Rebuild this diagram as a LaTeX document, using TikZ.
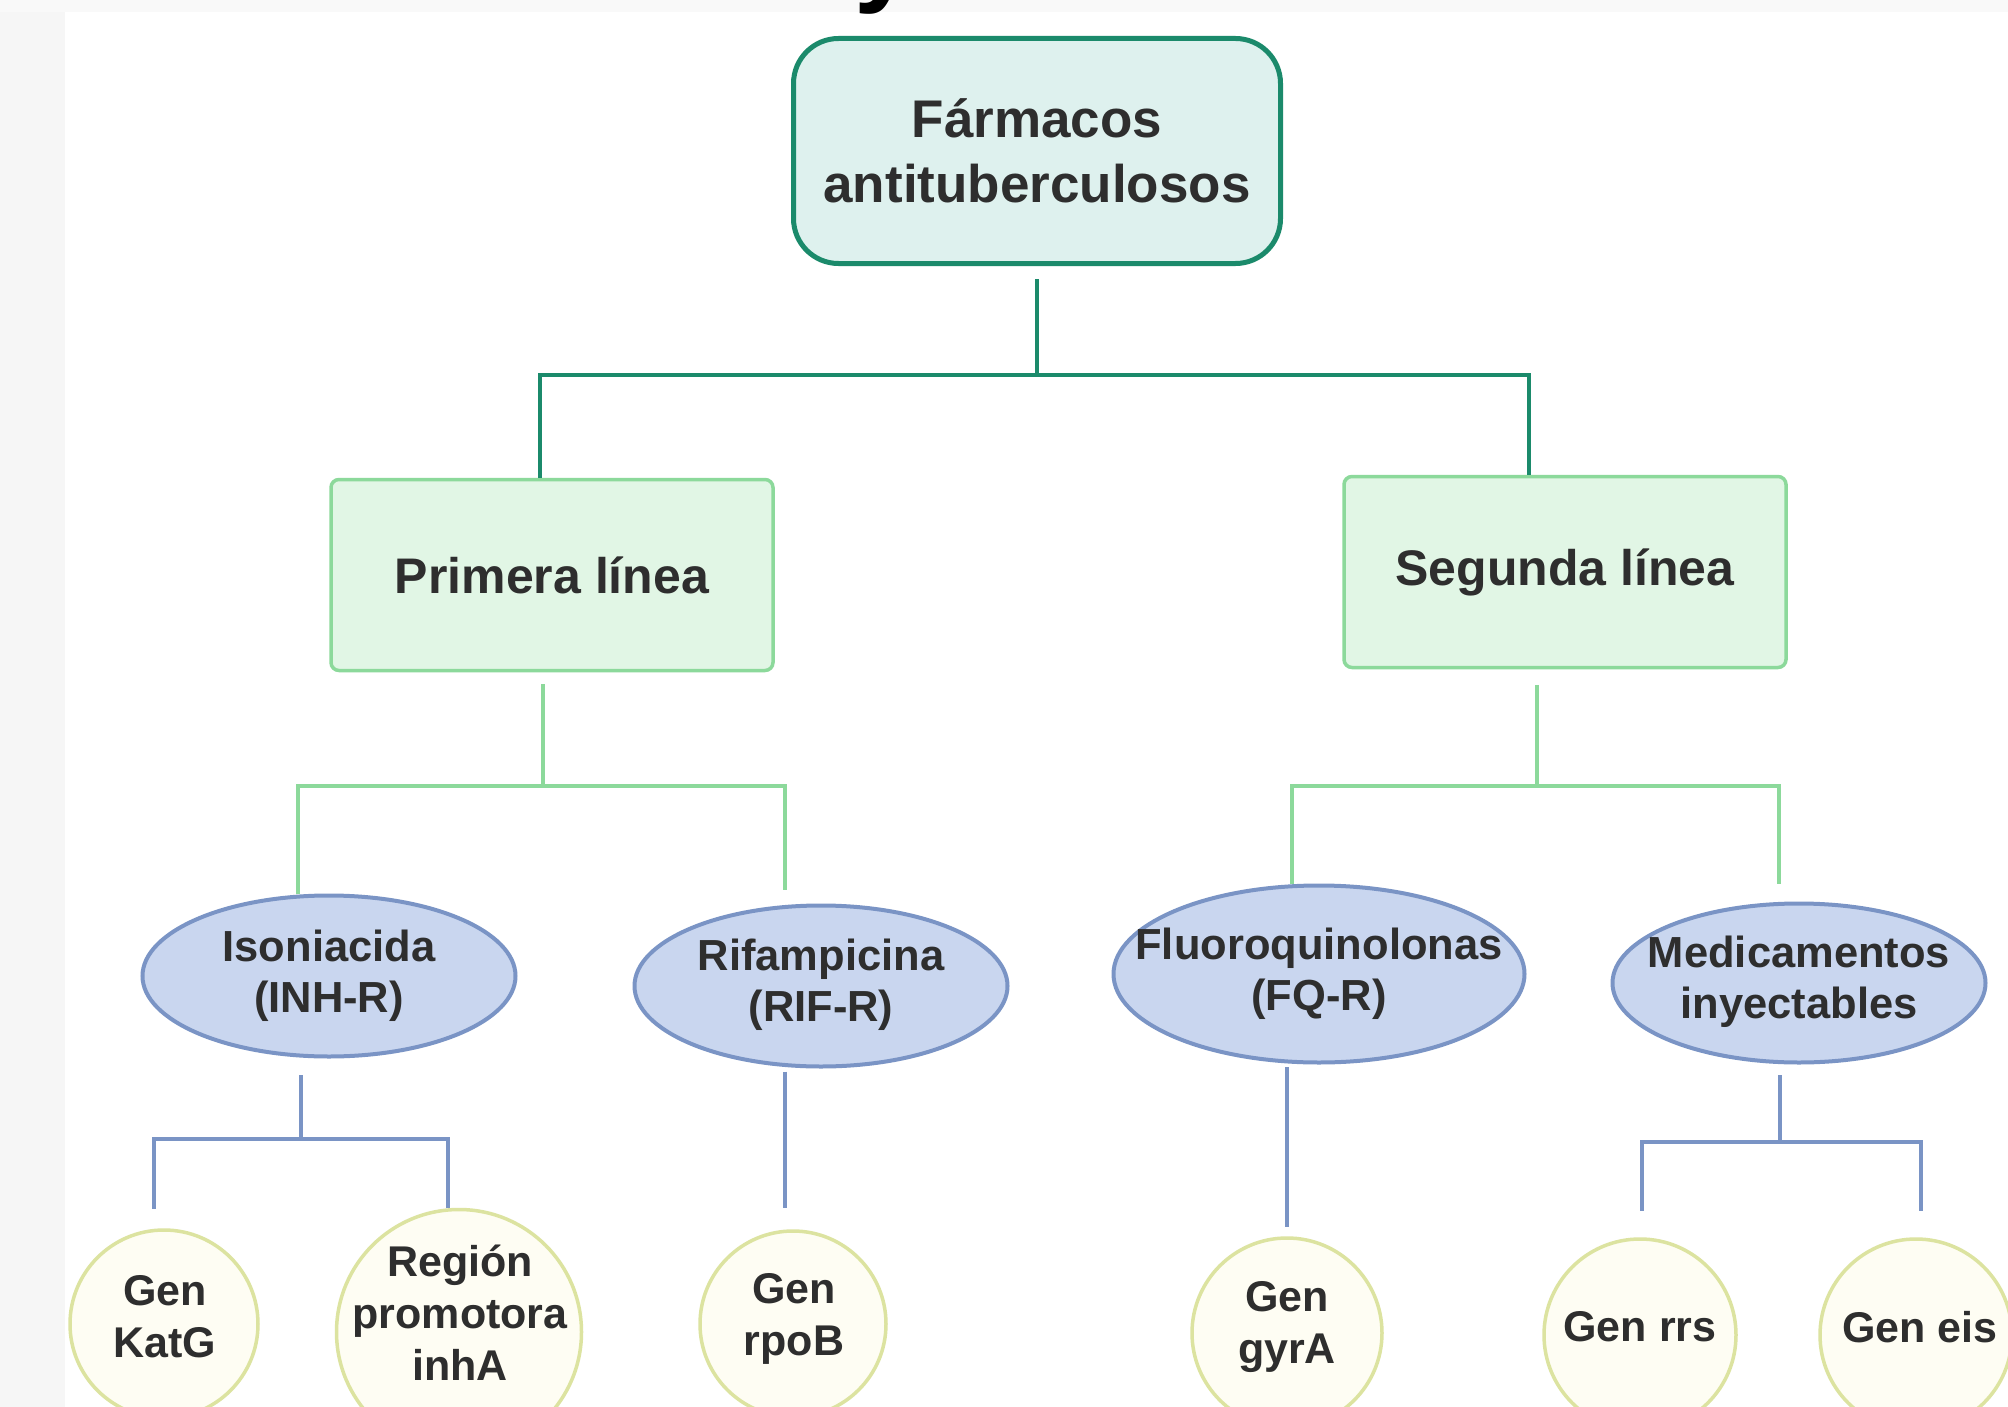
\documentclass[tikz,border=0pt]{standalone}
\usepackage{fontspec}
\setmainfont{Liberation Sans}
\usetikzlibrary{shapes.geometric}
\definecolor{txt}{HTML}{2E2E2E}
\definecolor{tealc}{HTML}{1B8A6B}
\definecolor{rootfill}{HTML}{DEF1EE}
\definecolor{greenc}{HTML}{8CD99B}
\definecolor{boxfill}{HTML}{E1F6E5}
\definecolor{bluec}{HTML}{7A94C5}
\definecolor{ellfill}{HTML}{C9D6EF}
\definecolor{yelc}{HTML}{DCE3A0}
\definecolor{circfill}{HTML}{FEFDF3}
\tikzset{
  rootbox/.style={draw=tealc, fill=rootfill, line width=5pt, rounded corners=45pt,
    minimum width=487pt, minimum height=225pt, inner sep=0pt, align=center, text=txt,
    font=\fontsize{53}{65}\selectfont\bfseries},
  linebox/.style={draw=greenc, fill=boxfill, line width=3.5pt, rounded corners=8pt,
    minimum width=442pt, minimum height=191pt, inner sep=0pt, align=center, text=txt,
    font=\fontsize{50}{60}\selectfont\bfseries},
  ell/.style={ellipse, draw=bluec, fill=ellfill, line width=4pt, inner sep=0pt},
  etext/.style={inner sep=0pt, align=center, text=txt, font=\fontsize{43.5}{51}\selectfont\bfseries},
  circ/.style={circle, draw=yelc, fill=circfill, line width=3.5pt, inner sep=0pt},
  ctext/.style={inner sep=0pt, align=center, text=txt, font=\fontsize{43}{52}\selectfont\bfseries},
  tealln/.style={draw=tealc, line width=4.5pt},
  greenln/.style={draw=greenc, line width=4.5pt},
  blueln/.style={draw=bluec, line width=4.5pt},
}
\begin{document}
\begin{tikzpicture}[x=1pt,y=-1pt]
\useasboundingbox (0,0) rectangle (2008,1407);
\fill[white] (0,0) rectangle (2008,1407);
\fill[gray!7] (0,0) rectangle (65,1407);
\fill[gray!5] (0,0) rectangle (2008,12);
\begin{scope}
  \clip (0,0) rectangle (2008,14);
  \node[inner sep=0pt, anchor=base, font=\fontsize{110}{110}\selectfont\bfseries] (ttl) at (885,-8) {y};
\end{scope}

% nodes
\node[rootbox] (root) at (1037,151) {Fármacos\\antituberculosos};
\node[linebox] (prim) at (552,575) {Primera línea};
\node[linebox] (seg) at (1565,572) {Segunda línea};

\node[ell, minimum width=373pt, minimum height=161pt] (iso) at (329,976) {};
\node[ell, minimum width=373pt, minimum height=161pt] (rif) at (821,986) {};
\node[ell, minimum width=411pt, minimum height=177pt] (fq) at (1319,974) {};
\node[ell, minimum width=373pt, minimum height=159pt] (med) at (1799,983) {};
\node[etext] (isot) at (329,976) {Isoniacida\\(INH-R)};
\node[etext] (rift) at (821,985) {Rifampicina\\(RIF-R)};
\node[etext] (fqt) at (1319,974) {Fluoroquinolonas\\(FQ-R)};
\node[etext] (medt) at (1799,982) {Medicamentos\\inyectables};

\node[circ, minimum size=188pt] (katg) at (164,1324) {};
\node[circ, minimum size=245pt] (reg) at (459,1332) {};
\node[circ, minimum size=186pt] (rpob) at (793,1324) {};
\node[circ, minimum size=190pt] (gyra) at (1287,1333) {};
\node[circ, minimum size=192pt] (rrs) at (1640,1335) {};
\node[circ, minimum size=192pt] (eis) at (1916,1335) {};
\node[ctext] (katgt) at (165,1317) {Gen\\KatG};
\node[ctext] (regt) at (460,1313) {Región\\promotora\\inhA};
\node[ctext] (rpobt) at (794,1319) {Gen\\rpoB};
\node[ctext] (gyrat) at (1287,1327) {Gen\\gyrA};
\node[ctext] (rrst) at (1640,1327) {Gen rrs};
\node[ctext] (eist) at (1920,1327) {Gen eis};

% connectors: root
\coordinate (b1) at ([yshift=-109pt]root.south);
\draw[tealln] ([yshift=-13pt]root.south) -- (b1);
\draw[tealln] (b1) -| ([xshift=-12pt]prim.north);
\draw[tealln] (b1) -| ([xshift=-36pt]seg.north);

% primera linea
\coordinate (b2) at ([xshift=-9pt,yshift=-113.5pt]prim.south);
\draw[greenln] ([xshift=-9pt,yshift=-12pt]prim.south) -- (b2);
\draw[greenln] (b2) -| ([xshift=-31pt]iso.north);
\draw[greenln] (b2) -| ([xshift=-36pt,yshift=14pt]rif.north);

% segunda linea
\coordinate (b3) at ([xshift=-28pt,yshift=-116.5pt]seg.south);
\draw[greenln] ([xshift=-28pt,yshift=-15.5pt]seg.south) -- (b3);
\draw[greenln] (b3) -| ([xshift=-27pt]fq.north);
\draw[greenln] (b3) -| ([xshift=-20pt,yshift=18pt]med.north);

% isoniacida
\coordinate (b4) at ([xshift=-28pt,yshift=-80.5pt]iso.south);
\draw[blueln] ([xshift=-28pt,yshift=-16.5pt]iso.south) -- (b4);
\draw[blueln] (b4) -| ([xshift=-10pt,yshift=19pt]katg.north);
\draw[blueln] (b4) -| ([xshift=-11pt]reg.north);

% rifampicina
\draw[blueln] ([xshift=-36pt,yshift=-3pt]rif.south) -- ([xshift=-8pt,yshift=21pt]rpob.north);

% fluoroquinolonas
\draw[blueln] ([xshift=-32pt,yshift=-2.5pt]fq.south) -- ([yshift=9pt]gyra.north);

% medicamentos
\coordinate (b5) at ([xshift=-19pt,yshift=-77.5pt]med.south);
\draw[blueln] ([xshift=-19pt,yshift=-10.5pt]med.south) -- (b5);
\draw[blueln] (b5) -| ([xshift=2pt,yshift=26pt]rrs.north);
\draw[blueln] (b5) -| ([xshift=5pt,yshift=26pt]eis.north);
\end{tikzpicture}
\end{document}
